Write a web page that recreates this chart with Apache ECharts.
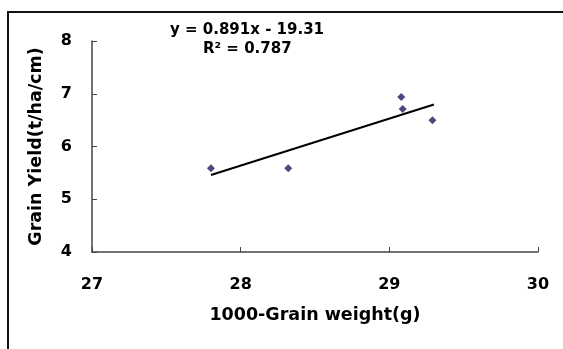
<!DOCTYPE html>
<html>
<head>
<meta charset="utf-8">
<script src="https://cdn.jsdelivr.net/npm/echarts@6/dist/echarts.min.js"></script>
<style>
html,body{margin:0;padding:0;background:#fff;}
#c{width:563px;height:349px;}
</style>
</head>
<body>
<div id="c"></div>
<script>
const grainWeight = [27.80, 28.32, 29.08, 29.09, 29.29];
const grainYield  = [5.59, 5.59, 6.94, 6.71, 6.50];
const slope = 0.891;
const intercept = -19.31;
const trendX = [27.80, 29.30];
const xTicks = [27, 28, 29, 30];
const yTicks = [4, 5, 6, 7, 8];
const equationText = 'y = 0.891x - 19.31';
const r2Text = 'R² = 0.787';
const xTitle = '1000-Grain weight(g)';
const yTitle = 'Grain Yield(t/ha/cm)';

const pts = grainWeight.map((x, i) => [x, grainYield[i]]);
const trend = trendX.map(x => [x, slope * x + intercept]);
const fontFam = '"DejaVu Sans", Arial, sans-serif';

const chart = echarts.init(document.getElementById('c'), null, {renderer: 'canvas'});
chart.setOption({
  animation: false,
  backgroundColor: '#fff',
  grid: {left: 92, right: 25, top: 41, bottom: 97},
  xAxis: {
    type: 'value', min: xTicks[0], max: xTicks[xTicks.length - 1], interval: 1,
    name: xTitle, nameLocation: 'middle', nameGap: 54,
    nameTextStyle: {fontFamily: fontFam, fontWeight: 'bold', fontSize: 17.5, color: '#000'},
    axisLine: {show: true, lineStyle: {color: '#444', width: 1.5}},
    axisTick: {show: true, inside: true, length: 5, lineStyle: {color: '#444'}},
    axisLabel: {margin: 25, fontFamily: fontFam, fontWeight: 'bold', fontSize: 16, color: '#000'},
    splitLine: {show: false}
  },
  yAxis: {
    type: 'value', min: yTicks[0], max: yTicks[yTicks.length - 1], interval: 1,
    name: yTitle, nameLocation: 'middle', nameGap: 47,
    nameTextStyle: {fontFamily: fontFam, fontWeight: 'bold', fontSize: 17.5, color: '#000'},
    axisLine: {show: true, lineStyle: {color: '#444', width: 1.5}},
    axisTick: {show: true, inside: true, length: 5, lineStyle: {color: '#444'}},
    axisLabel: {margin: 20, fontFamily: fontFam, fontWeight: 'bold', fontSize: 16, color: '#000'},
    splitLine: {show: false}
  },
  graphic: [
    {type: 'line', shape: {x1: 7, y1: 12, x2: 563, y2: 12}, style: {stroke: '#111', lineWidth: 2}, z: 100},
    {type: 'line', shape: {x1: 8, y1: 11, x2: 8, y2: 349}, style: {stroke: '#111', lineWidth: 2}, z: 100},
    {type: 'text', left: 170, top: 23, style: {text: equationText, font: 'bold 15px ' + fontFam, fill: '#000'}},
    {type: 'text', left: 203, top: 42, style: {text: r2Text, font: 'bold 15px ' + fontFam, fill: '#000'}}
  ],
  series: [
    {type: 'scatter', data: pts, symbol: 'diamond', symbolSize: 8, itemStyle: {color: '#1c1c5c'}, z: 3},
    {type: 'line', data: trend, symbol: 'none', lineStyle: {color: '#000', width: 2}, z: 2}
  ]
});
</script>
</body>
</html>
